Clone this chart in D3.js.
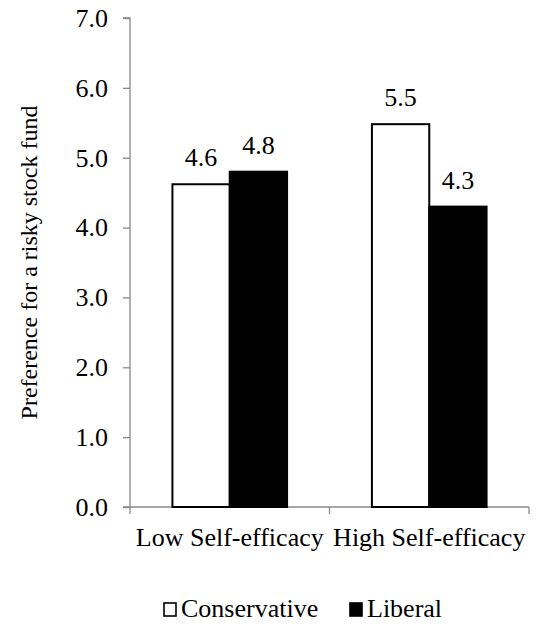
<!DOCTYPE html>
<html><head><meta charset="utf-8">
<script src="https://cdn.jsdelivr.net/npm/d3@7"></script>
</head><body style="margin:0;background:#fff">
<svg id="c" width="536" height="627" font-family="Times New Roman"></svg>
<script>
const categories = ["Low Self-efficacy", "High Self-efficacy"];
const seriesNames = ["Conservative", "Liberal"];
const conservative = [4.62, 5.48];
const liberal = [4.80, 4.30];
const labels = [["4.6", "5.5"], ["4.8", "4.3"]];
const yTicks = [0, 1, 2, 3, 4, 5, 6, 7];

(function () {
const FF = "Times New Roman";
const svg = d3.select("#c");
const mLeft = 130, mRight = 529, mTop = 18, mBottom = 507;
const x = d3.scaleBand().domain(categories).range([mLeft, mRight]);
const xs = d3.scaleBand().domain(seriesNames).range([0, x.bandwidth()]).paddingOuter(0.74).paddingInner(0);
const y = d3.scaleLinear().domain([0, 7]).range([mBottom, mTop]);
const fs = 26;
const ax = "#888";

// y axis
const ya = svg.append("g").attr("transform", `translate(${mLeft},0)`)
  .call(d3.axisLeft(y).tickValues(yTicks).tickFormat(d3.format(".1f")).tickSize(7).tickPadding(15));
ya.attr("font-family", FF).attr("font-size", fs);
ya.select(".domain").attr("stroke", ax).attr("stroke-width", 1.3).attr("d", `M-7,${mTop}H0V${mBottom}`);
ya.selectAll(".tick line").attr("stroke", ax).attr("stroke-width", 1.3);
ya.selectAll(".tick text").attr("font-size", fs).attr("fill", "#000").style("font-family", FF);

// x axis
const xa = svg.append("g").attr("transform", `translate(0,${mBottom})`);
xa.append("path").attr("d", `M${mLeft - 7},0H${mRight}`).attr("stroke", ax).attr("stroke-width", 1.3).attr("fill", "none");
const bounds = categories.map(c => x(c)).concat([x(categories[categories.length - 1]) + x.bandwidth()]);
xa.selectAll("line.t").data(bounds).join("line").attr("x1", d => d).attr("x2", d => d).attr("y1", 0).attr("y2", 7)
  .attr("stroke", ax).attr("stroke-width", 1.3);
xa.selectAll("text.cat").data(categories).join("text").attr("class", "cat")
  .attr("x", d => x(d) + x.bandwidth() / 2).attr("y", 39).attr("text-anchor", "middle")
  .style("font-family", FF).attr("font-size", fs).text(d => d);

// bars
const series = [conservative, liberal];
const fills = ["#fff", "#000"];
series.forEach((vals, si) => {
  svg.append("g").selectAll("rect").data(vals).join("rect")
    .attr("x", (d, i) => x(categories[i]) + xs(seriesNames[si]))
    .attr("width", xs.bandwidth())
    .attr("y", d => y(d))
    .attr("height", d => y(0) - y(d))
    .attr("fill", fills[si]).attr("stroke", "#000").attr("stroke-width", 2);
  svg.append("g").selectAll("text").data(vals).join("text")
    .attr("x", (d, i) => x(categories[i]) + xs(seriesNames[si]) + xs.bandwidth() / 2)
    .attr("y", d => y(d) - 18).attr("text-anchor", "middle")
    .style("font-family", FF).attr("font-size", fs)
    .text((d, i) => labels[si][i]);
});

// y title
svg.append("text").attr("transform", `translate(37,${(mTop + mBottom) / 2}) rotate(-90)`)
  .attr("text-anchor", "middle").style("font-family", FF).attr("font-size", 24)
  .text("Preference for a risky stock fund");

// legend
const lg = svg.append("g").attr("transform", "translate(163,617)");
const items = [{n: seriesNames[0], f: "#fff", x: 0}, {n: seriesNames[1], f: "#000", x: 186}];
items.forEach(it => {
  lg.append("rect").attr("x", it.x + 1).attr("y", -14).attr("width", 12).attr("height", 13)
    .attr("fill", it.f).attr("stroke", "#000").attr("stroke-width", 1.6);
  lg.append("text").attr("x", it.x + 18).attr("y", 0)
    .style("font-family", FF).attr("font-size", fs).text(it.n);
});
})();
</script>
</body></html>
